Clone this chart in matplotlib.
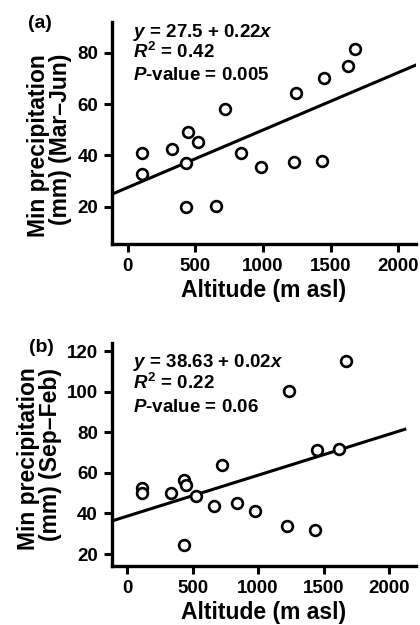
import matplotlib
matplotlib.use("Agg")
import matplotlib.pyplot as plt
import numpy as np

plt.rcParams['font.family'] = ['Liberation Sans', 'DejaVu Sans']
plt.rcParams['font.weight'] = 'bold'
plt.rcParams['mathtext.fontset'] = 'custom'
plt.rcParams['mathtext.it'] = 'Liberation Sans:italic:bold'
plt.rcParams['mathtext.rm'] = 'Liberation Sans:bold'
plt.rcParams['mathtext.bf'] = 'Liberation Sans:bold'

# Panel (a): Mar-Jun
alt_a = [108, 108, 325, 431, 443, 517, 431, 653, 719, 835, 983, 1229, 1244, 1438, 1451, 1626, 1680]
prec_a = [41.0, 32.6, 42.6, 36.9, 49.1, 45.3, 20.0, 20.2, 58.0, 40.8, 35.6, 37.5, 64.4, 37.8, 70.1, 74.8, 81.4]
fit_a = (27.5, 0.0224)

# Panel (b): Sep-Feb
alt_b = [117, 117, 335, 437, 450, 526, 432, 661, 722, 836, 976, 1222, 1237, 1433, 1446, 1616, 1669]
prec_b = [52.7, 50.2, 50.2, 56.5, 54.0, 48.6, 24.6, 43.6, 63.8, 45.0, 41.3, 34.0, 100.3, 31.8, 71.2, 71.6, 115.2]
fit_b = (38.63, 0.0202)

x_ticks = [0, 500, 1000, 1500, 2000]
y_ticks_a = [20, 40, 60, 80]
y_ticks_b = [20, 40, 60, 80, 100, 120]

ylabel_a = "Min precipitation\n(mm) (Mar\u2013Jun)"
ylabel_b = "Min precipitation\n(mm) (Sep\u2013Feb)"
eq_a = ["$y$ = 27.5 + 0.22$x$", "$R^2$ = 0.42", "$P$-value = 0.005"]
eq_b = ["$y$ = 38.63 + 0.02$x$", "$R^2$ = 0.22", "$P$-value = 0.06"]

fig = plt.figure(figsize=(4.2, 6.25), dpi=100)
ax_a = fig.add_axes([0.2667, 0.6096, 0.7233, 0.3552])
ax_b = fig.add_axes([0.266, 0.0944, 0.724, 0.3563])


def style(ax, xlim, ylim, yticks, ylabel, ylab_xy, eq, eq_y0, eq_dy, panel, panel_xy):
    ax.set_xlim(*xlim)
    ax.set_ylim(*ylim)
    ax.set_xticks(x_ticks)
    ax.set_yticks(yticks)
    for s in ['top', 'right']:
        ax.spines[s].set_visible(False)
    for s in ['left', 'bottom']:
        ax.spines[s].set_linewidth(2.4)
    ax.tick_params(axis='both', direction='out', length=6, width=2.2,
                   labelsize=13.5, pad=4)
    for lab in ax.get_xticklabels() + ax.get_yticklabels():
        lab.set_fontweight('bold')
    ax.set_xlabel("Altitude (m asl)", fontsize=16.5, fontweight='bold', labelpad=3)
    ax.set_ylabel(ylabel, fontsize=16.5, fontweight='bold', linespacing=0.95,
                  multialignment='right')
    ax.yaxis.set_label_coords(*ylab_xy)
    for i, t in enumerate(eq):
        ax.text(0.07, eq_y0 - i * eq_dy, t, transform=ax.transAxes,
                fontsize=13.5, fontweight='bold', va='baseline', ha='left')
    ax.text(panel_xy[0], panel_xy[1], panel, transform=ax.transAxes, fontsize=14,
            fontweight='bold', va='center', ha='left')


# Panel a
ax_a.scatter(alt_a, prec_a, s=60, facecolors='white', edgecolors='black',
             linewidths=1.9, zorder=3)
xa = np.array([-115, 2130])
ax_a.plot(xa, fit_a[0] + fit_a[1] * xa, color='black', lw=2.2, zorder=2)
style(ax_a, (-115, 2130), (5.5, 92), y_ticks_a, ylabel_a, (-0.131, 0.445),
      eq_a, 0.934, 0.097, "(a)", (-0.276, 0.995))

# Panel b
ax_b.scatter(alt_b, prec_b, s=60, facecolors='white', edgecolors='black',
             linewidths=1.9, zorder=3)
xb = np.array([-117, 2119])
ax_b.plot(xb, fit_b[0] + fit_b[1] * xb, color='black', lw=2.2, zorder=2)
style(ax_b, (-117, 2203), (14.1, 123.8), y_ticks_b, ylabel_b, (-0.163, 0.48),
      eq_b, 0.895, 0.101, "(b)", (-0.272, 0.979))

fig.savefig("out.png", dpi=100)
